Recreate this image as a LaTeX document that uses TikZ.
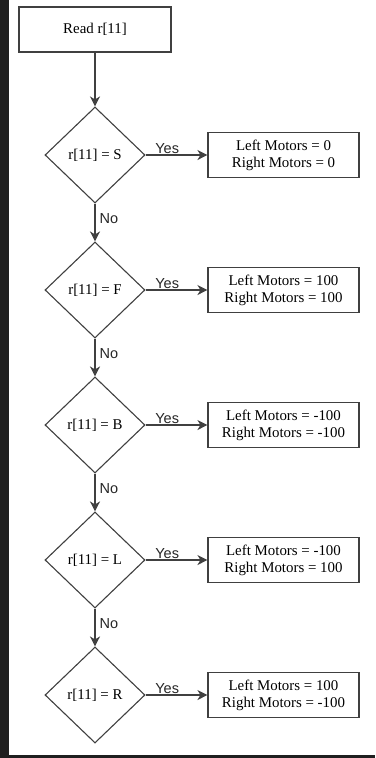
\documentclass[tikz,border=0pt]{standalone}
\usepackage{fontspec}
\setmainfont{Liberation Serif}
\newfontfamily\labelfont{Liberation Sans}
\usetikzlibrary{shapes.geometric,arrows.meta}
\begin{document}
\begin{tikzpicture}[x=1pt,y=-1pt,
  every node/.style={font=\fontsize{14.9}{17}\selectfont, text=black},
  procbox/.style={draw=black!75, line width=1.1pt, fill=white, rectangle,
    minimum width=151pt, minimum height=45pt, inner sep=0pt, align=center},
  decision/.style={draw=black!75, line width=1.1pt, fill=white, diamond,
    minimum width=100pt, minimum height=96pt, inner sep=0pt},
  flow/.style={draw=black!75, line width=1.1pt,
    -{Stealth[length=10pt,width=10pt,inset=3pt]}},
  branch/.style={font=\labelfont\fontsize{14.5}{17}\selectfont, text=black!85, inner sep=1pt},
  nolabel/.style={branch, right, pos=0.4, xshift=3pt}]
  % page frame
  \useasboundingbox (0,0) rectangle (375,758);
  \fill[white] (0,0) rectangle (375,758);
  \fill[black!88] (0,0) rectangle (9,758);
  \fill[black!88] (0,755) rectangle (375,758);

  % start
  \node[procbox, minimum width=152pt] (read) at (95,29.5) {Read r[11]};

  % decisions
  \node[decision] (dS) at (95,155) {r[11] = S};
  \node[decision] (dF) at (95,290) {r[11] = F};
  \node[decision] (dB) at (95,425) {r[11] = B};
  \node[decision] (dL) at (95,560) {r[11] = L};
  \node[decision] (dR) at (95,695) {r[11] = R};

  % actions
  \node[procbox] (aS) at (283.5,155) {Left Motors = 0\\Right Motors = 0};
  \node[procbox] (aF) at (283.5,290) {Left Motors = 100\\Right Motors = 100};
  \node[procbox] (aB) at (283.5,425) {Left Motors = -100\\Right Motors = -100};
  \node[procbox] (aL) at (283.5,560) {Left Motors = -100\\Right Motors = 100};
  \node[procbox] (aR) at (283.5,695) {Left Motors = 100\\Right Motors = -100};

  % main line
  \draw[flow] (read) -- (dS);
  \draw[flow] (dS) -- node[nolabel] {No} (dF);
  \draw[flow] (dF) -- node[nolabel] {No} (dB);
  \draw[flow] (dB) -- node[nolabel] {No} (dL);
  \draw[flow] (dL) -- node[nolabel] {No} (dR);

  % yes branches
  \foreach \k in {S,F,B,L,R}{
    \draw[flow] (d\k.east) -- node[branch, above, pos=0.35] {Yes} (a\k.west);
  }
\end{tikzpicture}
\end{document}
